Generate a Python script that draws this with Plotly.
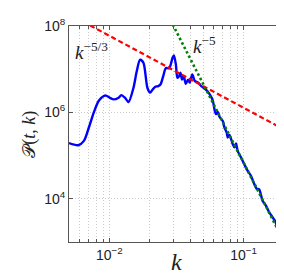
import plotly.graph_objects as go

# Spectrum
k_vals = [0.005, 0.00586, 0.006457, 0.007031, 0.007656, 0.008334, 0.009076, 0.009438,
          0.01017, 0.01076, 0.01171, 0.01227, 0.01313, 0.01389, 0.01512, 0.01600,
          0.01695, 0.01793, 0.01919, 0.02009, 0.02101, 0.02188, 0.02314, 0.02406,
          0.02519, 0.02638, 0.02790, 0.02952, 0.03023, 0.03128, 0.03214, 0.03308,
          0.03382, 0.03482, 0.03584, 0.03708, 0.03856, 0.03969, 0.04148, 0.04321,
          0.04571, 0.04835, 0.05123, 0.05419, 0.05732, 0.05901, 0.06073, 0.06242,
          0.06424, 0.06613, 0.06995, 0.07200, 0.07489, 0.07616, 0.07840, 0.08293,
          0.08536, 0.08771, 0.09030, 0.09550, 0.1012, 0.1070, 0.1132, 0.1186,
          0.1254, 0.1306, 0.1342, 0.1382, 0.1462, 0.1549, 0.1638, 0.1733,
          0.1784, 0.1836, 0.1887, 0.1942, 0.2009]
p_vals = [1.95e5, 1.74e5, 2.19e5, 4.47e5, 1.00e6, 1.86e6, 2.40e6, 2.45e6,
          2.14e6, 2.00e6, 2.19e6, 2.51e6, 2.14e6, 1.74e6, 3.72e6, 9.12e6,
          1.66e7, 1.41e7, 3.72e6, 2.88e6, 3.39e6, 3.89e6, 4.07e6, 4.47e6,
          6.92e6, 1.07e7, 1.05e7, 1.82e7, 2.09e7, 1.29e7, 6.31e6, 6.92e6,
          8.32e6, 5.75e6, 6.92e6, 4.57e6, 5.75e6, 4.90e6, 7.59e6, 5.37e6,
          4.90e6, 4.07e6, 3.55e6, 3.02e6, 2.29e6, 1.86e6, 1.17e6, 9.12e5,
          1.02e6, 7.94e5, 6.31e5, 4.47e5, 3.39e5, 2.63e5, 3.02e5, 1.86e5,
          1.55e5, 1.91e5, 1.29e5, 9.12e4, 6.31e4, 4.47e4, 3.47e4, 2.40e4,
          1.70e4, 1.66e4, 1.29e4, 9.12e3, 7.08e3, 4.90e3, 3.80e3, 2.88e3,
          2.04e3, 1.78e3, 1.41e3, 1.10e3, 8.9e2]

# Reference power laws (end points)
red_k = [0.005, 0.2]
red_p = [1.88e8, 4.03e5]      # k^-5/3
green_k = [0.0285, 0.21]
green_p = [1.37e8, 7.6e2]     # labelled k^-5

# Tick positions / labels
x_major = [0.01, 0.1]
x_major_text = ["10<sup>−2</sup>", "10<sup>−1</sup>"]
x_minor = [0.006, 0.007, 0.008, 0.009, 0.02, 0.03, 0.04, 0.05, 0.06,
           0.07, 0.08, 0.09, 0.2]
y_ticks = [1e4, 1e6, 1e8]
y_labels = ["10<sup>4</sup>", "10<sup>6</sup>", "10<sup>8</sup>"]

fig = go.Figure()
fig.add_trace(go.Scatter(x=k_vals, y=p_vals, mode="lines",
                         line=dict(color="#0000ff", width=2.4, shape="spline", smoothing=0.8)))
fig.add_trace(go.Scatter(x=red_k, y=red_p, mode="lines",
                         line=dict(color="#ff0000", width=2.2, dash="5px,3px")))
fig.add_trace(go.Scatter(x=green_k, y=green_p, mode="lines",
                         line=dict(color="#008000", width=2.6, dash="2.5px,2.5px")))

grid = dict(showgrid=True, gridcolor="#cccccc", gridwidth=1, griddash="1px,2px")
axis_common = dict(
    showline=True, linecolor="#555", linewidth=1, mirror="ticks",
    ticks="inside", ticklen=4, tickcolor="#555", zeroline=False,
    tickfont=dict(family="Liberation Sans, Arial", size=14, color="#222"),
    **grid,
)

fig.update_xaxes(type="log", range=[-2.301, -0.699],
                 tickmode="array", tickvals=x_major, ticktext=x_major_text,
                 minor=dict(tickmode="array", tickvals=x_minor, ticks="inside", ticklen=3,
                            tickcolor="#555", **grid),
                 **axis_common)
fig.update_yaxes(type="log", range=[3, 8],
                 tickmode="array", tickvals=y_ticks, ticktext=y_labels, **axis_common)

serif = "Liberation Serif, DejaVu Serif, serif"
fig.add_annotation(x=-2.27, y=7.42, xref="x", yref="y", xanchor="left", showarrow=False,
                   text="<i>k</i><sup>−5/3</sup>", font=dict(family=serif, size=19, color="#222"))
fig.add_annotation(x=-1.39, y=7.56, xref="x", yref="y", xanchor="left", showarrow=False,
                   text="<i>k</i><sup>−5</sup>", font=dict(family=serif, size=19, color="#222"))
fig.add_annotation(x=0.5, y=-0.16, xref="paper", yref="paper", showarrow=False,
                   text="<i>k</i>", font=dict(family=serif, size=24, color="#222"))
fig.add_annotation(x=-0.245, y=0.5, xref="paper", yref="paper", showarrow=False, textangle=-90,
                   text="𝒫(<i>t</i>, <i>k</i>)", font=dict(family=serif, size=18, color="#222"))

fig.update_layout(width=284, height=276, showlegend=False,
                  margin=dict(l=61, r=8, t=18, b=42),
                  paper_bgcolor="white", plot_bgcolor="white")

fig.write_html("out.html")
